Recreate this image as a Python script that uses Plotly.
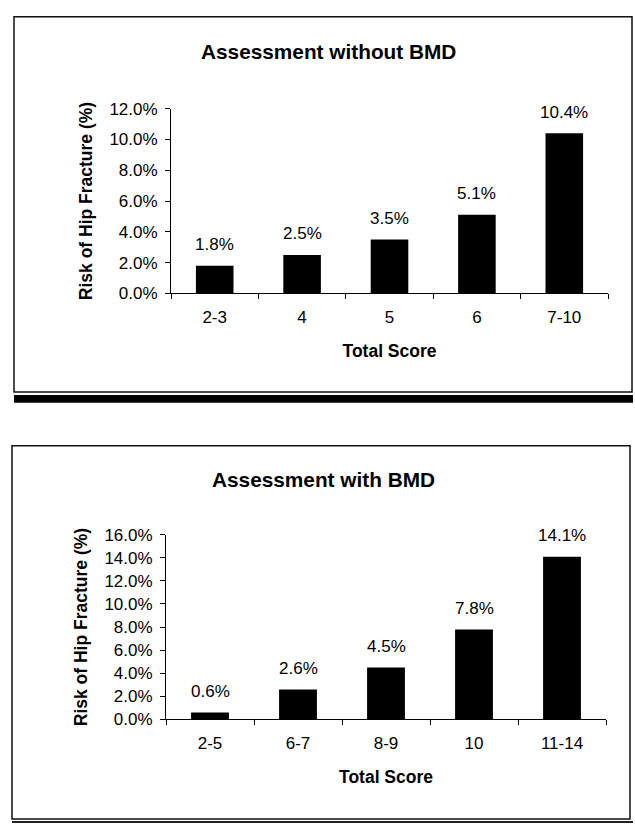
import plotly.graph_objects as go

# Hip fracture risk by total score, without and with BMD
score_groups_no_bmd = ["2-3", "4", "5", "6", "7-10"]
risk_no_bmd = [1.8, 2.5, 3.5, 5.1, 10.4]

score_groups_bmd = ["2-5", "6-7", "8-9", "10", "11-14"]
risk_bmd = [0.6, 2.6, 4.5, 7.8, 14.1]

title_no_bmd = "Assessment without BMD"
title_bmd = "Assessment with BMD"
x_title = "Total Score"
y_title = "Risk of Hip Fracture (%)"

W, H = 635, 833
FONT = "Liberation Sans, Arial, Helvetica, sans-serif"


def px_x(v):
    return v / W


def px_y(v):
    return 1 - v / H


tick_font = dict(family=FONT, size=17, color="black")
bold_font = dict(family=FONT, size=17.5, color="black", weight="bold")


def group_axis(domain, anchor, labels):
    n = len(labels)
    return dict(domain=domain, anchor=anchor, range=[-0.5, n - 0.5],
                tickmode="array", tickvals=list(range(n)), ticktext=labels, ticks="",
                minor=dict(tickmode="array", tickvals=[i - 0.5 for i in range(n + 1)],
                           ticks="outside", ticklen=5, tickwidth=1, tickcolor="black",
                           showgrid=False),
                showline=True, linecolor="black", linewidth=1, showgrid=False,
                zeroline=False, tickfont=tick_font, ticklabelstandoff=8, fixedrange=True,
                title=dict(text=x_title, font=bold_font, standoff=18))


def val_axis(domain, anchor, top):
    return dict(domain=domain, anchor=anchor, range=[0, top], dtick=2,
                tickformat=".1f", ticksuffix="%", ticks="outside", ticklen=5,
                tickwidth=1, tickcolor="black", showline=True, linecolor="black",
                linewidth=1, showgrid=False, zeroline=False, tickfont=tick_font,
                ticklabelstandoff=4, fixedrange=True,
                title=dict(text=y_title, font=bold_font, standoff=12))


def inner_x(domain, overlay, anchor, n):
    return dict(domain=domain, overlaying=overlay, anchor=anchor, range=[-0.5, n - 0.5],
                tickmode="array", tickvals=[i - 0.5 for i in range(n + 1)],
                ticks="inside", ticklen=5, tickwidth=1, tickcolor="black",
                showticklabels=False, showline=False, showgrid=False, zeroline=False,
                fixedrange=True)


def inner_y(domain, overlay, anchor, top):
    return dict(domain=domain, overlaying=overlay, anchor=anchor, range=[0, top], dtick=2,
                ticks="inside", ticklen=5, tickwidth=1, tickcolor="black",
                showticklabels=False, showline=False, showgrid=False, zeroline=False,
                side="left", fixedrange=True)


fig = go.Figure()

pos_no_bmd = list(range(len(score_groups_no_bmd)))
pos_bmd = list(range(len(score_groups_bmd)))

fig.add_trace(go.Bar(x=pos_no_bmd, y=risk_no_bmd, xaxis="x", yaxis="y",
                     marker=dict(color="black", line=dict(width=0)), width=0.43,
                     hoverinfo="skip"))
fig.add_trace(go.Bar(x=pos_bmd, y=risk_bmd, xaxis="x2", yaxis="y2",
                     marker=dict(color="black", line=dict(width=0)), width=0.43,
                     hoverinfo="skip"))

xd1 = [px_x(171), px_x(608)]
yd1 = [px_y(291), px_y(102)]
xd2 = [px_x(166), px_x(606)]
yd2 = [px_y(727), px_y(538)]

fig.update_layout(
    width=W, height=H,
    margin=dict(l=0, r=0, t=0, b=0),
    paper_bgcolor="white", plot_bgcolor="white",
    showlegend=False,
    font=dict(family=FONT, color="black"),
    xaxis=group_axis(xd1, "y", score_groups_no_bmd),
    yaxis=val_axis(yd1, "x", 12),
    xaxis2=group_axis(xd2, "y2", score_groups_bmd),
    yaxis2=val_axis(yd2, "x2", 16),
    xaxis3=inner_x(xd1, "x", "y", len(score_groups_no_bmd)),
    yaxis3=inner_y(yd1, "y", "x", 12),
    xaxis4=inner_x(xd2, "x2", "y2", len(score_groups_bmd)),
    yaxis4=inner_y(yd2, "y2", "x2", 16),
)

# value labels above each bar
for pos, vals, xr, yr in [(pos_no_bmd, risk_no_bmd, "x", "y"),
                          (pos_bmd, risk_bmd, "x2", "y2")]:
    for p, v in zip(pos, vals):
        fig.add_annotation(x=p, y=v, xref=xr, yref=yr, text=f"{v:.1f}%",
                           showarrow=False, yanchor="middle", yshift=21,
                           font=dict(family=FONT, size=17, color="black"))

# panel titles
for txt, cx, cy in [(title_no_bmd, 328, 44), (title_bmd, 323, 481)]:
    fig.add_annotation(x=px_x(cx), y=px_y(cy), xref="paper", yref="paper", text=txt,
                       showarrow=False, xanchor="center", yanchor="middle",
                       font=dict(family=FONT, size=20.8, color="black", weight="bold"))

# panel frames and separator rules
frame = dict(type="rect", xref="paper", yref="paper", line=dict(color="#111", width=1.5),
             fillcolor="rgba(0,0,0,0)", layer="above")
fig.add_shape(**frame, x0=px_x(14), x1=px_x(632), y0=px_y(392), y1=px_y(8))
fig.add_shape(**frame, x0=px_x(12), x1=px_x(630), y0=px_y(829), y1=px_y(447))
fig.add_shape(type="rect", xref="paper", yref="paper", x0=px_x(14), x1=px_x(633),
              y0=px_y(403), y1=px_y(395), fillcolor="black", line=dict(width=0))
fig.add_shape(type="rect", xref="paper", yref="paper", x0=px_x(12), x1=px_x(633),
              y0=px_y(833), y1=px_y(831), fillcolor="#222", line=dict(width=0))

fig.write_html("out.html")
